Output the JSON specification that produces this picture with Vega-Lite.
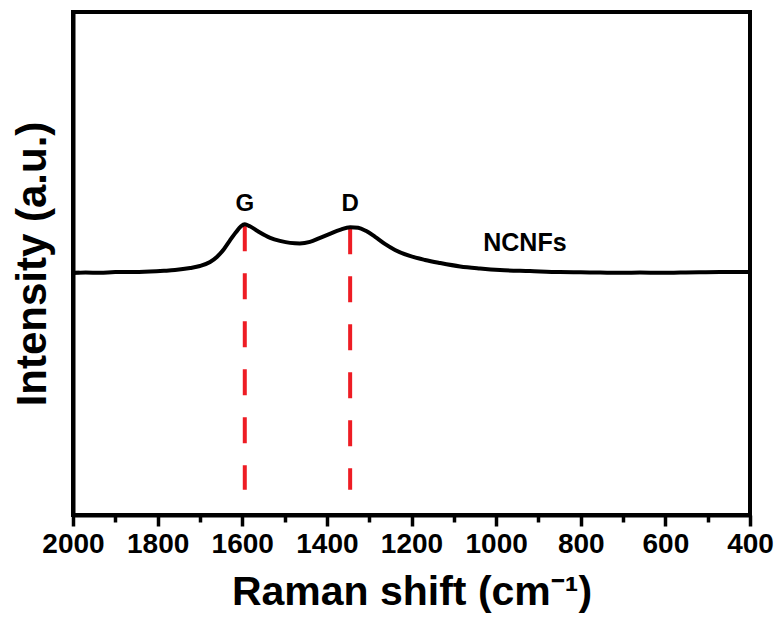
{
  "$schema": "https://vega.github.io/schema/vega-lite/v6.json",
  "width": 677,
  "height": 503,
  "autosize": {"type": "none"},
  "padding": {"left": 73, "top": 12, "right": 31, "bottom": 104},
  "background": "white",
  "config": {
    "font": "Liberation Sans",
    "view": {"stroke": "black", "strokeWidth": 4},
    "axis": {"grid": false, "domainColor": "black", "domainWidth": 4, "tickColor": "black", "tickWidth": 3.5}
  },
  "datasets": {
    "spectrum": [
      {"shift": 2000, "intensity": 48.1},
      {"shift": 1970, "intensity": 48.2},
      {"shift": 1936, "intensity": 48.15},
      {"shift": 1900, "intensity": 48.3},
      {"shift": 1865, "intensity": 48.3},
      {"shift": 1818, "intensity": 48.4},
      {"shift": 1785, "intensity": 48.55},
      {"shift": 1759, "intensity": 48.7},
      {"shift": 1723, "intensity": 49.1},
      {"shift": 1700, "intensity": 49.5},
      {"shift": 1676, "intensity": 50.3},
      {"shift": 1660, "intensity": 51.3},
      {"shift": 1643, "intensity": 52.9},
      {"shift": 1629, "intensity": 54.6},
      {"shift": 1615, "intensity": 56.2},
      {"shift": 1603, "intensity": 57.4},
      {"shift": 1594, "intensity": 57.8},
      {"shift": 1582, "intensity": 57.4},
      {"shift": 1563, "intensity": 56.4},
      {"shift": 1534, "intensity": 55.1},
      {"shift": 1511, "intensity": 54.5},
      {"shift": 1487, "intensity": 54.1},
      {"shift": 1464, "intensity": 54.0},
      {"shift": 1440, "intensity": 54.3},
      {"shift": 1416, "intensity": 55.1},
      {"shift": 1393, "intensity": 55.9},
      {"shift": 1369, "intensity": 56.7},
      {"shift": 1345, "intensity": 57.2},
      {"shift": 1326, "intensity": 57.1},
      {"shift": 1308, "intensity": 56.5},
      {"shift": 1286, "intensity": 55.3},
      {"shift": 1263, "intensity": 53.9},
      {"shift": 1239, "intensity": 52.7},
      {"shift": 1204, "intensity": 51.5},
      {"shift": 1168, "intensity": 50.7},
      {"shift": 1133, "intensity": 50.1},
      {"shift": 1085, "intensity": 49.4},
      {"shift": 1038, "intensity": 49.0},
      {"shift": 991, "intensity": 48.7},
      {"shift": 920, "intensity": 48.5},
      {"shift": 849, "intensity": 48.3},
      {"shift": 800, "intensity": 48.25},
      {"shift": 754, "intensity": 48.2},
      {"shift": 700, "intensity": 48.15},
      {"shift": 660, "intensity": 48.2},
      {"shift": 610, "intensity": 48.15},
      {"shift": 565, "intensity": 48.2},
      {"shift": 520, "intensity": 48.25},
      {"shift": 471, "intensity": 48.3},
      {"shift": 400, "intensity": 48.3}
    ],
    "peaks": [
      {"peak": "G", "shift": 1594, "top": 57.6, "bottom": 5.0, "labelY": 61.8},
      {"peak": "D", "shift": 1345, "top": 57.0, "bottom": 5.0, "labelY": 61.8}
    ],
    "sample": [
      {"name": "NCNFs", "shift": 932, "intensity": 54.1}
    ]
  },
  "encoding": {
    "x": {
      "field": "shift", "type": "quantitative",
      "scale": {"domain": [400, 2000], "reverse": true, "nice": false, "zero": false},
      "axis": {
        "values": [2000, 1900, 1800, 1700, 1600, 1500, 1400, 1300, 1200, 1100, 1000, 900, 800, 700, 600, 500, 400],
        "labelExpr": "datum.value % 200 === 0 ? datum.label : ''",
        "format": "d",
        "tickSize": {"condition": {"test": "datum.value % 200 === 0", "value": 11}, "value": 7},
        "labelFontSize": 28, "labelFontWeight": "bold", "labelColor": "black", "labelPadding": 4,
        "labelFlush": false, "labelOverlap": false,
        "title": "Raman shift (cm⁻¹)",
        "titleFontSize": 41, "titleFontWeight": "bold", "titleColor": "black",
        "titleBaseline": "alphabetic", "titleY": 89
      }
    }
  },
  "layer": [
    {
      "data": {"name": "peaks"},
      "mark": {"type": "rule", "color": "#ee1c24", "strokeWidth": 4, "strokeDash": [26, 22]},
      "encoding": {
        "y": {"field": "top", "type": "quantitative"},
        "y2": {"field": "bottom"}
      }
    },
    {
      "data": {"name": "spectrum"},
      "mark": {"type": "line", "color": "black", "strokeWidth": 4, "interpolate": "monotone"},
      "encoding": {
        "y": {
          "field": "intensity", "type": "quantitative",
          "scale": {"domain": [0, 100], "nice": false, "zero": false},
          "axis": {
            "values": [48.3], "labels": false, "tickSize": -6,
            "title": "Intensity (a.u.)",
            "titleFontSize": 42, "titleFontWeight": "bold", "titleColor": "black",
            "titleBaseline": "alphabetic", "titleX": -28
          }
        }
      }
    },
    {
      "data": {"name": "peaks"},
      "mark": {"type": "text", "fontSize": 24, "fontWeight": "bold", "color": "black", "baseline": "middle"},
      "encoding": {
        "y": {"field": "labelY", "type": "quantitative"},
        "text": {"field": "peak"}
      }
    },
    {
      "data": {"name": "sample"},
      "mark": {"type": "text", "fontSize": 25, "fontWeight": "bold", "color": "black", "baseline": "middle"},
      "encoding": {
        "y": {"field": "intensity", "type": "quantitative"},
        "text": {"field": "name"}
      }
    }
  ]
}
